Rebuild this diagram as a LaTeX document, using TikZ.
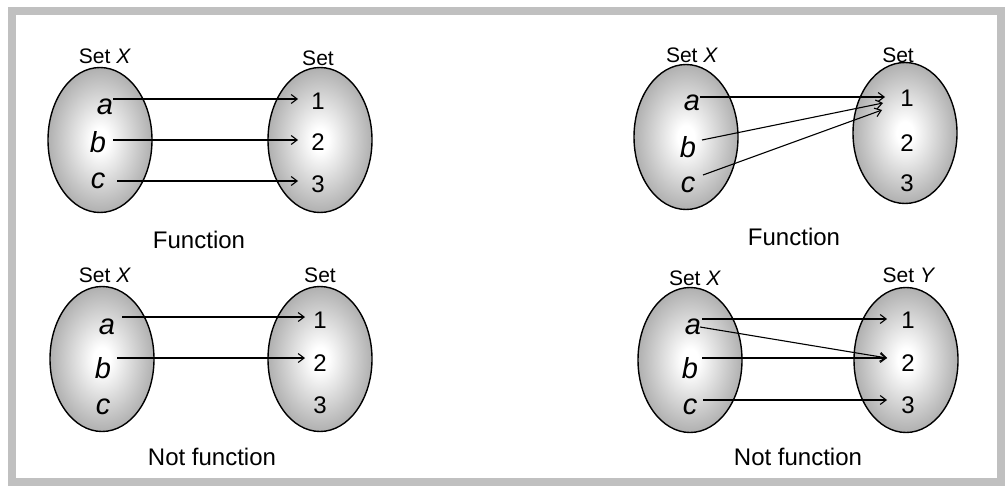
\documentclass[tikz,border=0pt]{standalone}
\usepackage{fontspec}
\setmainfont{Liberation Sans}
\usetikzlibrary{shapes.geometric,arrows.meta,calc}
\definecolor{framegray}{RGB}{192,192,192}
\definecolor{setedge}{RGB}{176,176,176}
\pgfdeclareradialshading{setglow}{\pgfpoint{0bp}{0bp}}{%
  color(0bp)=(white); color(4bp)=(white); color(25bp)=(setedge); color(50bp)=(setedge)}
\tikzset{
  setblob/.style={ellipse, draw, line width=1.4pt, minimum width=104pt,
    minimum height=145pt, inner sep=0pt, shading=setglow},
  setlbl/.style={inner sep=0pt, font=\fontsize{21}{21}\selectfont},
  eltfont/.style={inner sep=0pt, font=\fontsize{29}{29}\selectfont\itshape},
  numfont/.style={inner sep=0pt, font=\fontsize{24}{24}\selectfont},
  caption/.style={inner sep=0pt, font=\fontsize{24}{24}\selectfont},
  maps/.style={line width=1.1pt, -{Straight Barb[length=6pt,width=9pt,line width=1.1pt]}}
}
\begin{document}
\begin{tikzpicture}[x=1pt,y=-1pt]
\useasboundingbox (0,0) rectangle (1006,487);
% frame
\fill[framegray] (8,7) rectangle (1005,486);
\fill[white] (16,15) rectangle (997,478);

% ---------- top left: function ----------
\node[setblob] (p1X) at (100,140) {};
\node[setblob] (p1Y) at (320,140) {};
\node[setlbl] (p1Xl) at (105,56) {Set \textit{X}};
\node[setlbl] (p1Yl) at (318,58) {Set};
\node[eltfont] (p1a) at (105,107) {a};
\node[eltfont] (p1b) at (98,142) {b};
\node[eltfont] (p1c) at (98,181) {c};
\node[numfont] (p1n1) at (318,101) {1};
\node[numfont] (p1n2) at (318,142) {2};
\node[numfont] (p1n3) at (318,184) {3};
\draw[maps] ($(p1a)+(8,-8)$) -- ($(p1n1)+(-20,-2)$);
\draw[maps] ($(p1b)+(15,-2)$) -- ($(p1n2)+(-20,-2)$);
\draw[maps] ($(p1c)+(19,0)$) -- ($(p1n3)+(-20,-3)$);
\node[caption] (p1cap) at (199,240) {Function};

% ---------- top right: function ----------
\node[setblob] (p2X) at (686,137) {};
\node[setblob, minimum height=141pt] (p2Y) at (905,133) {};
\node[setlbl] (p2Xl) at (692,55) {Set \textit{X}};
\node[setlbl] (p2Yl) at (898,55) {Set};
\node[eltfont] (p2a) at (692,103) {a};
\node[eltfont] (p2b) at (688,147) {b};
\node[eltfont] (p2c) at (688,185) {c};
\node[numfont] (p2n1) at (907,98) {1};
\node[numfont] (p2n2) at (907,143) {2};
\node[numfont] (p2n3) at (907,183) {3};
\draw[maps] ($(p2a)+(8,-6)$) -- ($(p2n1)+(-22,-1)$);
\draw[maps] ($(p2b)+(14,-7)$) -- ($(p2n1)+(-24,5)$);
\draw[maps] ($(p2c)+(15,-10)$) -- ($(p2n1)+(-25,12)$);
\node[caption] (p2cap) at (794,237) {Function};

% ---------- bottom left: not a function ----------
\node[setblob] (p3X) at (102,359) {};
\node[setblob] (p3Y) at (320,359) {};
\node[setlbl] (p3Xl) at (105,275) {Set \textit{X}};
\node[setlbl] (p3Yl) at (320,275) {Set};
\node[eltfont] (p3a) at (107,327) {a};
\node[eltfont] (p3b) at (103,368) {b};
\node[eltfont] (p3c) at (103,407) {c};
\node[numfont] (p3n1) at (320,320) {1};
\node[numfont] (p3n2) at (320,363) {2};
\node[numfont] (p3n3) at (320,405) {3};
\draw[maps] ($(p3a)+(15,-10)$) -- ($(p3n1)+(-15,-3)$);
\draw[maps] ($(p3b)+(14,-10)$) -- ($(p3n2)+(-15,-5)$);
\node[caption] (p3cap) at (212,457) {Not function};

% ---------- bottom right: not a function ----------
\node[setblob] (p4X) at (690,360) {};
\node[setblob] (p4Y) at (906,360) {};
\node[setlbl] (p4Xl) at (695,278) {Set \textit{X}};
\node[setlbl] (p4Yl) at (909,275) {Set \textit{Y}};
\node[eltfont] (p4a) at (693,327) {a};
\node[eltfont] (p4b) at (690,368) {b};
\node[eltfont] (p4c) at (690,407) {c};
\node[numfont] (p4n1) at (908,320) {1};
\node[numfont] (p4n2) at (908,363) {2};
\node[numfont] (p4n3) at (908,405) {3};
\draw[maps] ($(p4a)+(9,-8)$) -- ($(p4n1)+(-21,-1)$);
\draw[maps] ($(p4a)+(7,0)$) -- ($(p4n2)+(-21,-5)$);
\draw[maps] ($(p4b)+(12,-10)$) -- ($(p4n2)+(-21,-5)$);
\draw[maps] ($(p4c)+(13,-7)$) -- ($(p4n3)+(-21,-5)$);
\node[caption] (p4cap) at (798,457) {Not function};
\end{tikzpicture}
\end{document}
